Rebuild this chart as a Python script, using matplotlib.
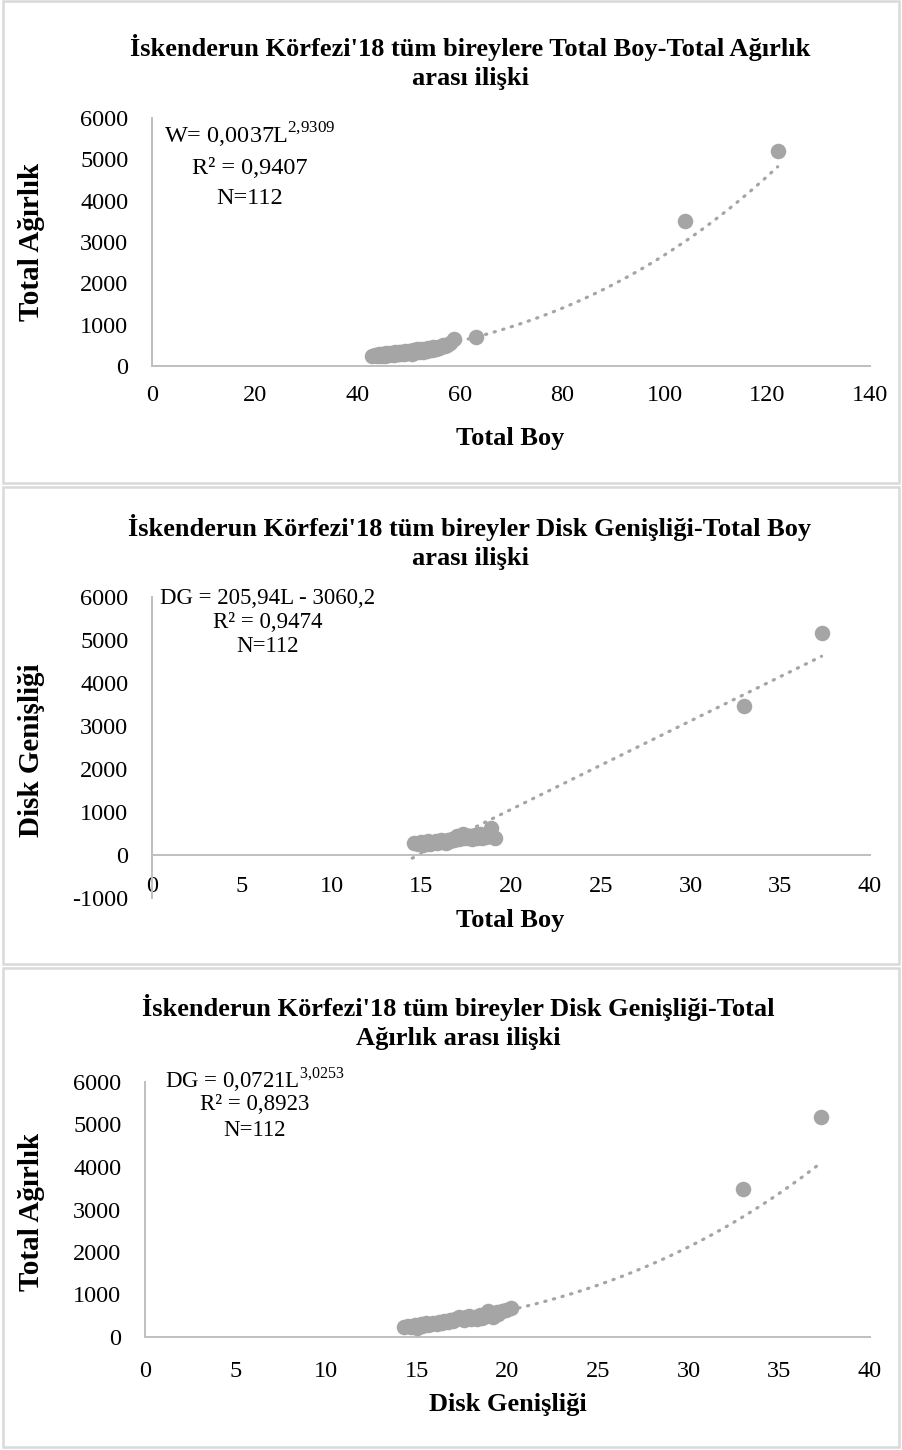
import numpy as np
import matplotlib
matplotlib.use('Agg')
import matplotlib.pyplot as plt
from matplotlib.patches import Rectangle

plt.rcParams['font.family'] = ['Liberation Serif', 'DejaVu Serif']
plt.rcParams['mathtext.fontset'] = 'custom'
plt.rcParams['mathtext.rm'] = 'Liberation Serif'
plt.rcParams['axes.unicode_minus'] = False

W_PX, H_PX = 902, 1450
POINT_GRAY = '#A5A5A5'
AXIS_GRAY = '#BFBFBF'
BORDER_GRAY = '#D9D9D9'

# Panel 1: Total Boy vs Total Agirlik
boy_1 = [42.8, 43.4, 43.9, 44.3, 44.6, 44.9, 45.1, 45.4, 45.7, 45.9,
         46.2, 46.4, 46.7, 46.9, 47.2, 47.4, 47.7, 47.9, 48.1, 48.4,
         48.6, 48.9, 49.1, 49.4, 49.6, 49.9, 50.1, 50.4, 50.6, 50.9,
         51.1, 51.4, 51.6, 51.9, 52.1, 52.4, 52.6, 52.9, 53.1, 53.4,
         53.6, 53.9, 54.2, 54.5, 54.8, 55.1, 55.4, 55.7, 56.0, 56.4,
         56.8, 57.2, 57.6, 58.2, 58.8, 63.2, 104.0, 122.0]
agirlik_1 = [240, 260, 230, 280, 250, 300, 270, 240, 310, 280,
             260, 320, 290, 300, 270, 340, 310, 290, 330, 300,
             350, 320, 280, 360, 330, 310, 370, 340, 300, 380,
             350, 330, 400, 360, 340, 410, 380, 350, 420, 390,
             370, 440, 400, 380, 450, 420, 400, 470, 430, 460,
             500, 480, 520, 560, 650, 700, 3500, 5200]

# Panel 2: Disk Genisligi vs agirlik (linear fit)
dg_2 = [14.6, 14.8, 15.0, 15.1, 15.3, 15.4, 15.5, 15.7, 15.8, 15.9,
        16.0, 16.1, 16.2, 16.3, 16.4, 16.5, 16.6, 16.7, 16.8, 16.9,
        17.0, 17.1, 17.2, 17.3, 17.4, 17.5, 17.6, 17.7, 17.8, 17.9,
        18.0, 18.1, 18.2, 18.3, 18.4, 18.5, 18.6, 18.7, 18.8, 18.9,
        19.0, 19.1, 33.0, 37.3]
w_2 = [280, 250, 300, 230, 290, 320, 260, 300, 330, 280,
       310, 350, 300, 330, 290, 360, 320, 380, 340, 400,
       450, 370, 420, 480, 390, 430, 400, 450, 370, 420,
       460, 400, 440, 480, 390, 450, 420, 500, 470, 630,
       420, 400, 3470, 5170]

# Panel 3: Disk Genisligi vs Total Agirlik (power fit)
dg_3 = [14.3, 14.5, 14.7, 14.9, 15.0, 15.2, 15.3, 15.5, 15.6, 15.8,
        15.9, 16.1, 16.2, 16.4, 16.5, 16.7, 16.8, 17.0, 17.1, 17.3,
        17.4, 17.6, 17.7, 17.9, 18.0, 18.2, 18.3, 18.5, 18.6, 18.8,
        18.9, 19.1, 19.2, 19.4, 19.5, 19.7, 19.9, 20.2, 33.0, 37.3]
w_3 = [230, 260, 240, 290, 210, 300, 270, 320, 290, 300,
       340, 310, 360, 330, 380, 350, 400, 370, 420, 480,
       440, 410, 460, 500, 430, 470, 420, 510, 450, 490,
       620, 520, 480, 580, 540, 610, 640, 690, 3480, 5180]

# Fitted trendline coefficients (from the chart labels)
fit_1 = (0.0037, 2.9309)
fit_2 = (205.94, -3060.2)
fit_3 = (0.0721, 3.0253)

titles = [
    "İskenderun Körfezi'18 tüm bireylere Total Boy-Total Ağırlık\narası ilişki",
    "İskenderun Körfezi'18 tüm bireyler Disk Genişliği-Total Boy\narası ilişki",
    "İskenderun Körfezi'18 tüm bireyler Disk Genişliği-Total\nAğırlık arası ilişki",
]
x_labels = ['Total Boy', 'Total Boy', 'Disk Genişliği']
y_labels = ['Total Ağırlık', 'Disk Genişliği', 'Total Ağırlık']
notes = [
    [r'W= 0,0037L$^{\mathrm{2{,}9309}}$', 'R² = 0,9407', 'N=112'],
    ['DG = 205,94L - 3060,2', 'R² = 0,9474', 'N=112'],
    [r'DG = 0,0721L$^{\mathrm{3{,}0253}}$', 'R² = 0,8923', 'N=112'],
]


def fx(x):
    return x / W_PX


def fy(y):
    return 1 - y / H_PX


def add_axes(fig, left, right, top, bottom):
    return fig.add_axes([fx(left), fy(bottom), fx(right - left), (bottom - top) / H_PX])


def style_axes(ax, xlim, xticks, ylim, yticks, xpad):
    ax.set_xlim(*xlim)
    ax.set_ylim(*ylim)
    ax.set_xticks(xticks)
    ax.set_yticks(yticks)
    ax.spines['top'].set_visible(False)
    ax.spines['right'].set_visible(False)
    for s in ['left', 'bottom']:
        ax.spines[s].set_color(AXIS_GRAY)
        ax.spines[s].set_linewidth(1.4)
    ax.tick_params(axis='both', length=0, labelsize=17.5)
    ax.tick_params(axis='x', pad=xpad)
    ax.tick_params(axis='y', pad=17)
    ax.patch.set_alpha(0)


def draw_points(ax, x, y):
    assert len(x) == len(y)
    ax.scatter(x, y, s=125, color=POINT_GRAY, linewidths=0, zorder=3)


def draw_trend(ax, xs, ys):
    ax.plot(xs, ys, color=POINT_GRAY, linewidth=2.3, dashes=(0.4, 2.4),
            dash_capstyle='round', zorder=2)


fig = plt.figure(figsize=(W_PX / 100, H_PX / 100), dpi=100)

# panel frames
for top, bottom in [(1, 483), (487, 964), (968, 1447)]:
    fig.patches.append(Rectangle((fx(3), fy(bottom)), fx(896), (bottom - top) / H_PX,
                                 transform=fig.transFigure, fill=False,
                                 edgecolor=BORDER_GRAY, linewidth=1.8))

# Panel 1
ax1 = add_axes(fig, 152, 870, 118, 366)
style_axes(ax1, (0, 140), np.arange(0, 141, 20), (0, 6000), np.arange(0, 6001, 1000), 14)
xs = np.linspace(min(boy_1), max(boy_1), 300)
draw_trend(ax1, xs, fit_1[0] * xs ** fit_1[1])
draw_points(ax1, boy_1, agirlik_1)

# Panel 2
ax2 = add_axes(fig, 152, 870, 597, 898)
style_axes(ax2, (0, 40), np.arange(0, 41, 5), (-1000, 6000), np.arange(-1000, 6001, 1000), 15)
ax2.spines['bottom'].set_position(('data', 0))
xs = np.linspace(min(dg_2) - 0.1, max(dg_2), 300)
draw_trend(ax2, xs, fit_2[0] * xs + fit_2[1])
draw_points(ax2, dg_2, w_2)

# Panel 3
ax3 = add_axes(fig, 145, 870, 1082, 1337)
style_axes(ax3, (0, 40), np.arange(0, 41, 5), (0, 6000), np.arange(0, 6001, 1000), 17)
xs = np.linspace(min(dg_3), max(dg_3), 300)
draw_trend(ax3, xs, fit_3[0] * xs ** fit_3[1])
draw_points(ax3, dg_3, w_3)

# titles and axis labels
title_pos = [(470, 62), (470, 542), (458, 1022)]
xlabel_pos = [(510, 438), (510, 920), (508, 1405)]
ylabel_pos = [(32, 242), (32, 750), (32, 1212)]
note_pos = [(250, [135, 168, 199]), (268, [598, 622, 646]), (255, [1080, 1105, 1130])]
note_size = [17.5, 16.5, 16.5]

for i in range(3):
    fig.text(fx(title_pos[i][0]), fy(title_pos[i][1]), titles[i], ha='center', va='center',
             fontsize=19, fontweight='bold', linespacing=1.3)
    fig.text(fx(xlabel_pos[i][0]), fy(xlabel_pos[i][1]), x_labels[i], ha='center', va='center',
             fontsize=19, fontweight='bold')
    fig.text(fx(ylabel_pos[i][0]), fy(ylabel_pos[i][1]), y_labels[i], ha='center', va='center',
             fontsize=21, fontweight='bold', rotation=90)
    cx, rows = note_pos[i]
    for line, y in zip(notes[i], rows):
        fig.text(fx(cx), fy(y), line, ha='center', va='center', fontsize=note_size[i])

fig.savefig('out.png', dpi=100)
